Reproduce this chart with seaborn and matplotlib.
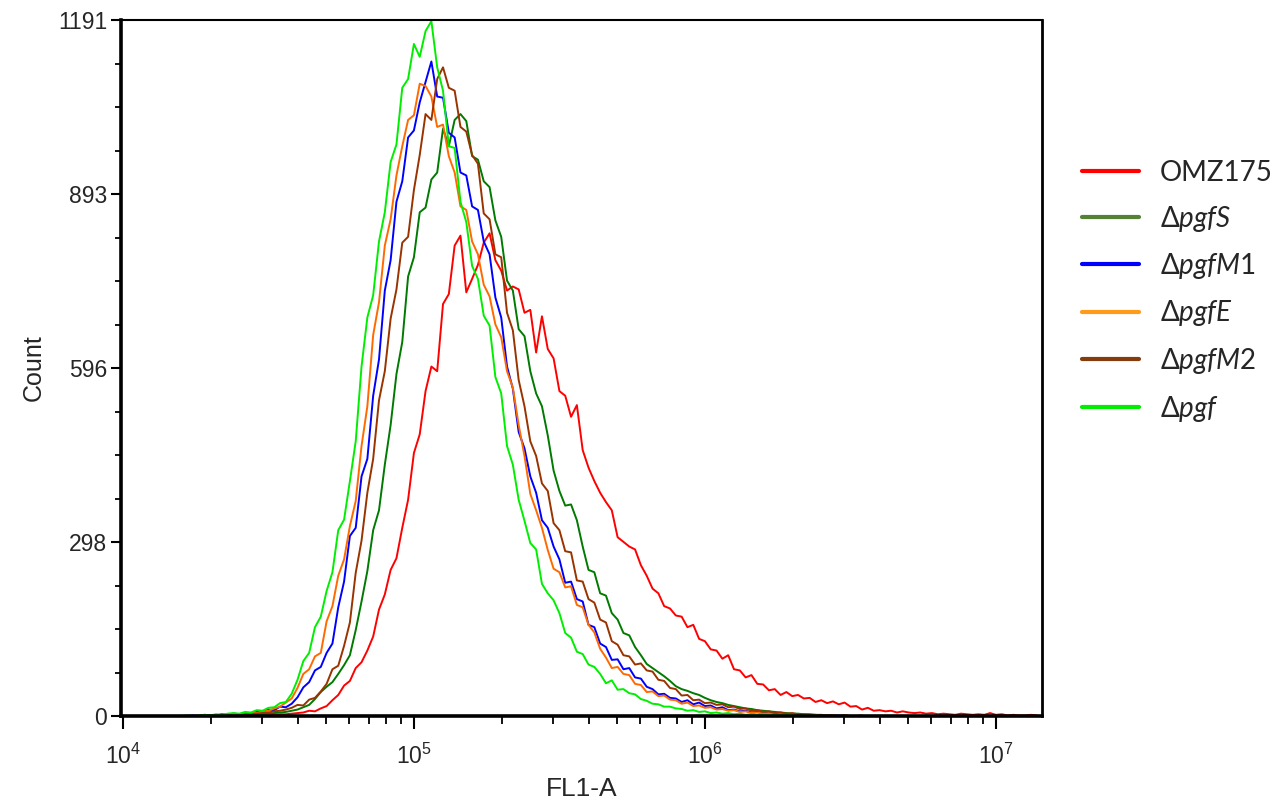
import numpy as np
import pandas as pd
import seaborn as sns
import matplotlib.pyplot as plt
from matplotlib.lines import Line2D
from matplotlib.ticker import AutoMinorLocator, LogLocator, NullFormatter

# histogram channels: log10(FL1-A) starting at 4.20, one channel every 0.02 decade
start = 4.20
step = 0.02

strains = ['OMZ175', 'ΔpgfS', 'ΔpgfM1', 'ΔpgfE', 'ΔpgfM2', 'Δpgf']
legend_labels = ['OMZ175', r'Δ$\mathit{pgfS}$', r'Δ$\mathit{pgfM1}$',
                 r'Δ$\mathit{pgfE}$', r'Δ$\mathit{pgfM2}$', r'Δ$\mathit{pgf}$']
line_colors = ['#ff0000', '#007a00', '#0000ff', '#ff6a00', '#993300', '#00ee00']
legend_colors = ['#ff0000', '#548235', '#0000ff', '#ff9a1a', '#843c0c', '#00ee00']

# counts per channel
omz175 = [0, 0, 0, 0, 0, 0, 0, 0, 0, 0,
          1, 0, 1, 1, 2, 1, 2, 3, 3, 4,
          5, 6, 9, 8, 13, 17, 27, 36, 52, 60,
          82, 92, 112, 136, 182, 208, 250, 270, 322, 370,
          450, 482, 556, 598, 590, 705, 722, 805, 822, 725,
          748, 772, 810, 826, 780, 762, 728, 735, 730, 690,
          695, 622, 684, 628, 612, 556, 548, 512, 532, 455,
          425, 402, 382, 366, 352, 306, 298, 290, 285,
          258, 240, 218, 210, 188, 184, 172, 170, 152, 156,
          132, 128, 114, 112, 98, 104, 80, 78, 66, 70,
          55, 54, 44, 46, 36, 41, 34, 36, 30, 31,
          24, 27, 22, 25, 20, 23, 16, 17, 11, 14,
          9, 10, 8, 9, 6, 8, 6, 5, 6, 4,
          5, 3, 4, 3, 2, 4, 3, 2, 3, 2,
          5, 2, 3, 1, 2, 1, 1, 2, 1]

pgfS = [0, 0, 0, 0, 0, 1, 0, 1, 1, 1,
        2, 2, 2, 3, 3, 4, 5, 6, 7, 9,
        11, 15, 19, 29, 41, 50, 58, 72, 87, 104,
        147, 196, 248, 318, 352, 430, 498, 585, 640, 752,
        785, 862, 870, 918, 930, 1005, 975, 1020, 1030, 1018,
        958, 952, 915, 905, 848, 820, 745, 728, 662, 650,
        590, 552, 530, 480, 420, 385, 360, 362, 335, 290,
        250, 246, 210, 206, 176, 165, 142, 138, 118, 104,
        89, 82, 75, 68, 60, 51, 46, 43, 39, 36,
        31, 27, 24, 22, 19, 17, 15, 13, 12, 10,
        9, 8, 7, 6, 5, 4, 4, 3, 3, 2,
        2, 1, 1, 0, 1, 0]

pgfM1 = [0, 0, 1, 0, 2, 1, 1, 3, 2, 4,
         3, 5, 4, 7, 7, 11, 10, 16, 15, 21,
         32, 49, 58, 78, 84, 108, 124, 186, 230, 308,
         322, 410, 440, 548, 610, 728, 780, 880, 915, 990,
         1002, 1050, 1085, 1120, 1060, 1058, 998, 990, 930, 925,
         872, 866, 812, 790, 716, 682, 598, 560, 486, 458,
         410, 382, 335, 322, 290, 268, 228, 230, 200, 196,
         156, 152, 124, 118, 96, 97, 80, 82, 66, 64,
         50, 46, 37, 38, 31, 30, 24, 27, 20, 23,
         17, 18, 13, 15, 10, 11, 8, 9, 6, 7,
         4, 6, 3, 4, 2, 3, 1, 2, 1, 1,
         0, 1, 0, 1, 0, 0]

pgfE = [0, 0, 0, 1, 0, 1, 2, 1, 2, 3,
        2, 4, 5, 5, 8, 9, 13, 16, 23, 30,
        48, 72, 80, 102, 108, 162, 188, 240, 268, 325,
        368, 462, 530, 652, 708, 805, 850, 925, 975, 1020,
        1028, 1082, 1078, 1060, 1008, 1012, 958, 930, 872, 866,
        812, 790, 738, 718, 670, 648, 590, 562, 498, 445,
        380, 352, 322, 284, 252, 246, 220, 222, 190, 186,
        156, 143, 115, 100, 82, 84, 72, 70, 55, 53,
        41, 42, 34, 35, 28, 27, 21, 23, 17, 18,
        14, 15, 11, 12, 9, 10, 7, 8, 5, 6,
        4, 5, 3, 4, 2, 3, 1, 2, 1, 1,
        0, 1, 0, 0, 1, 0]

pgfM2 = [0, 0, 0, 0, 1, 0, 1, 1, 2, 1,
         2, 3, 3, 4, 5, 6, 8, 9, 11, 14,
         19, 18, 28, 31, 42, 55, 80, 86, 120, 160,
         245, 300, 382, 440, 540, 590, 680, 730, 810, 820,
         900, 960, 1030, 1020, 1090, 1110, 1075, 1070, 1008, 1000,
         960, 945, 860, 850, 790, 785, 690, 660, 575, 530,
         470, 445, 398, 385, 330, 318, 282, 280, 232, 230,
         200, 194, 165, 160, 128, 122, 104, 102, 88, 90,
         78, 76, 62, 60, 48, 46, 35, 36, 27, 28,
         22, 23, 19, 20, 15, 16, 12, 13, 9, 10,
         7, 8, 5, 6, 4, 5, 3, 3, 2, 2,
         1, 1, 1, 0, 1, 0, 0, 1]

pgf = [0, 1, 0, 1, 2, 1, 3, 2, 4, 5,
       4, 7, 6, 10, 9, 14, 15, 22, 24, 38,
       62, 94, 108, 152, 170, 214, 246, 318, 336, 402,
       470, 598, 682, 720, 812, 862, 948, 978, 1075, 1090,
       1150, 1128, 1172, 1189, 1110, 1070, 975, 972, 880, 845,
       770, 748, 685, 668, 580, 552, 462, 430, 370, 334,
       296, 285, 226, 210, 198, 176, 142, 134, 110, 106,
       88, 84, 72, 56, 61, 45, 46, 39, 37, 29,
       26, 21, 20, 16, 16, 13, 12, 9, 10, 7,
       8, 5, 6, 4, 5, 3, 4, 2, 3, 2,
       2, 1, 2, 1, 1, 1, 0, 1, 0, 1, 0]

series = [omz175, pgfS, pgfM1, pgfE, pgfM2, pgf]
rows = []
for name, vals in zip(strains, series):
    for i, c in enumerate(vals):
        rows.append((name, 10 ** (start + step * i), c))
df = pd.DataFrame(rows, columns=['strain', 'FL1-A', 'Count'])

sns.set_style('ticks')
plt.rcParams['font.family'] = ['Liberation Sans', 'DejaVu Sans']
plt.rcParams['mathtext.fontset'] = 'custom'
plt.rcParams['mathtext.it'] = 'Lato:italic'
plt.rcParams['mathtext.rm'] = 'Lato'

fig = plt.figure(figsize=(12.79, 8.01), dpi=100)
ax = fig.add_axes([121 / 1279, 1 - 716 / 801, 921 / 1279, 696 / 801])

sns.lineplot(data=df, x='FL1-A', y='Count', hue='strain', hue_order=strains,
             palette=line_colors, estimator=None, sort=False, linewidth=1.4,
             legend=False, ax=ax)

ax.set_xscale('log')
ax.set_xlim(9850, 1.44e7)
ax.set_ylim(0, 1191)
ax.set_xticks([1e4, 1e5, 1e6, 1e7],
              labels=[r'$\mathregular{10^{4}}$', r'$\mathregular{10^{5}}$',
                      r'$\mathregular{10^{6}}$', r'$\mathregular{10^{7}}$'])
ax.xaxis.set_minor_locator(LogLocator(base=10, subs=np.arange(2, 10)))
ax.xaxis.set_minor_formatter(NullFormatter())
ax.set_yticks([0, 297.75, 595.5, 893.25, 1191],
              labels=['0', '298', '596', '893', '1191'])
ax.yaxis.set_minor_locator(AutoMinorLocator(4))

ax.tick_params(axis='both', which='major', direction='out', length=7,
               width=1.5, labelsize=16.5, color='black', pad=3)
ax.tick_params(axis='both', which='minor', direction='out', length=4,
               width=1.3, color='black')
ax.tick_params(axis='x', which='major', length=9, pad=11)
ax.tick_params(axis='x', which='minor', length=6)

for side, w in [('left', 2.6), ('bottom', 2.6), ('top', 1.5), ('right', 2.0)]:
    ax.spines[side].set_linewidth(w)
    ax.spines[side].set_color('black')

ax.set_xlabel('FL1-A', fontsize=19, labelpad=6)
ax.set_ylabel('Count', fontsize=18, labelpad=9)

handles = [Line2D([], [], color=c, lw=3) for c in legend_colors]
fig.legend(handles, legend_labels, loc='upper left',
           bbox_to_anchor=(1082 / 1279, 1 - 160 / 801), frameon=False,
           prop={'family': ['Lato', 'DejaVu Sans'], 'size': 20},
           handlelength=2.05, handletextpad=0.75, labelspacing=0.63,
           borderpad=0, borderaxespad=0)

fig.savefig('out.png', dpi=100)
